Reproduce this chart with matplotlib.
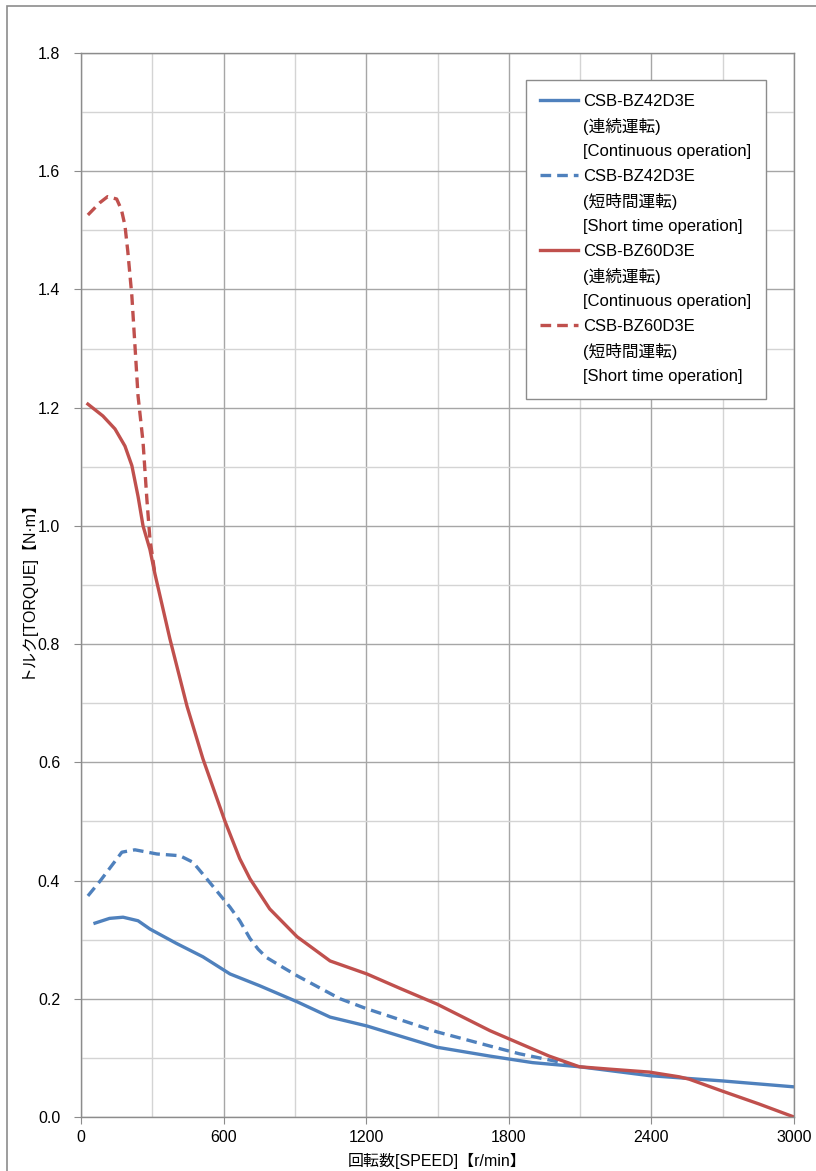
import matplotlib
matplotlib.use("Agg")
import matplotlib.pyplot as plt
from matplotlib.lines import Line2D
from matplotlib.patches import Rectangle
from matplotlib.ticker import MultipleLocator

plt.rcParams['font.family'] = ['Liberation Sans', 'Noto Sans CJK JP', 'DejaVu Sans']

# speed [r/min] / torque [N·m]
bz42_cont_x = [59, 120, 177, 240, 290, 400, 513, 627, 752, 909, 1048, 1203, 1350, 1498, 1721, 1900, 2097, 2391, 2700, 3000]
bz42_cont_y = [0.328, 0.336, 0.338, 0.332, 0.318, 0.294, 0.271, 0.242, 0.222, 0.195, 0.169, 0.154, 0.136, 0.118, 0.103,
               0.092, 0.085, 0.070, 0.061, 0.051]

bz42_short_x = [29, 80, 172, 227, 319, 416, 471, 529, 627, 668, 711, 745, 780, 850, 909, 1090, 1203, 1498, 1721, 1844, 2013, 2097]
bz42_short_y = [0.374, 0.399, 0.448, 0.452, 0.445, 0.442, 0.431, 0.403, 0.355, 0.332, 0.302, 0.284, 0.270, 0.253, 0.239,
                0.200, 0.183, 0.144, 0.120, 0.107, 0.093, 0.085]

bz60_cont_x = [29, 92, 143, 185, 214, 240, 261, 290, 311, 374, 446, 513, 606, 668, 711, 794, 909, 1048, 1203, 1340, 1498,
               1721, 1802, 1970, 2097, 2223, 2391, 2517, 2559, 2697, 2853, 3000]
bz60_cont_y = [1.206, 1.186, 1.164, 1.135, 1.102, 1.050, 1.000, 0.960, 0.919, 0.809, 0.695, 0.606, 0.500, 0.437, 0.403,
               0.352, 0.305, 0.264, 0.242, 0.218, 0.191, 0.146, 0.132, 0.103, 0.085, 0.081, 0.076, 0.068, 0.064, 0.044,
               0.022, 0.0]

bz60_short_x = [29, 80, 112, 150, 170, 185, 197, 214, 227, 240, 261, 277, 290, 311]
bz60_short_y = [1.526, 1.547, 1.557, 1.553, 1.535, 1.508, 1.464, 1.389, 1.305, 1.220, 1.142, 1.046, 0.978, 0.919]

BLUE = "#4F81BD"
RED = "#C0504D"
models = ["CSB-BZ42D3E", "CSB-BZ42D3E", "CSB-BZ60D3E", "CSB-BZ60D3E"]
modes_jp = ["(連続運転)", "(短時間運転)", "(連続運転)", "(短時間運転)"]
modes_en = ["[Continuous operation]", "[Short time operation]", "[Continuous operation]", "[Short time operation]"]


def main():
    fig = plt.figure(figsize=(8.16, 11.71), dpi=100)
    ax = fig.add_axes([81 / 816, 1 - 1117 / 1171, 713 / 816, 1064 / 1171])

    # outer chart frame (cut off at right/bottom in the reference)
    fig.patches.append(Rectangle((7 / 816, -0.1), 1.2, 1 - 6 / 1171 + 0.1, transform=fig.transFigure,
                                 fill=False, edgecolor="#8c8c8c", linewidth=1.2))

    lw = 2.4
    dash = (3.2, 1.8)
    l1, = ax.plot(bz42_cont_x, bz42_cont_y, color=BLUE, lw=lw)
    l2, = ax.plot(bz42_short_x, bz42_short_y, color=BLUE, lw=lw, ls=(0, dash))
    l3, = ax.plot(bz60_cont_x, bz60_cont_y, color=RED, lw=lw)
    l4, = ax.plot(bz60_short_x, bz60_short_y, color=RED, lw=lw, ls=(0, dash))

    ax.set_xlim(0, 3000)
    ax.set_ylim(0, 1.8)
    ax.xaxis.set_major_locator(MultipleLocator(600))
    ax.xaxis.set_minor_locator(MultipleLocator(300))
    ax.yaxis.set_major_locator(MultipleLocator(0.2))
    ax.yaxis.set_minor_locator(MultipleLocator(0.1))
    ax.yaxis.set_major_formatter(plt.FormatStrFormatter("%.1f"))
    ax.grid(which="major", color="#a6a6a6", lw=1.0)
    ax.grid(which="minor", color="#d4d4d4", lw=1.0)
    ax.set_axisbelow(True)
    for s in ax.spines.values():
        s.set_color("#8c8c8c")
        s.set_linewidth(1.0)
    ax.tick_params(which="major", length=5, color="#8c8c8c", labelsize=11.5, pad=4)
    ax.tick_params(which="minor", length=0)
    ax.tick_params(axis="y", pad=10)

    ax.set_xlabel("回転数[SPEED]【r/min】", fontsize=11.5, labelpad=6)
    ax.set_ylabel("トルク[TORQUE]【N·m】", fontsize=11.5, labelpad=3)

    # one legend row per text line; the line sample sits next to the model name
    blank = Line2D([], [], color="none")
    handles, labels = [], []
    for h, m, jp, en in zip([l1, l2, l3, l4], models, modes_jp, modes_en):
        handles += [h, blank, blank]
        labels += [m, jp, en]
    leg = ax.legend(handles, labels, loc="upper left", bbox_to_anchor=(0.624, 0.975), borderaxespad=0,
                    fontsize=12, frameon=True, fancybox=False, framealpha=1,
                    edgecolor="#8c8c8c", handlelength=2.3, handletextpad=0.3,
                    labelspacing=0.56, borderpad=0.85)
    leg.get_frame().set_linewidth(1.0)

    fig.savefig("out.png", dpi=100)


if __name__ == "__main__":
    main()
